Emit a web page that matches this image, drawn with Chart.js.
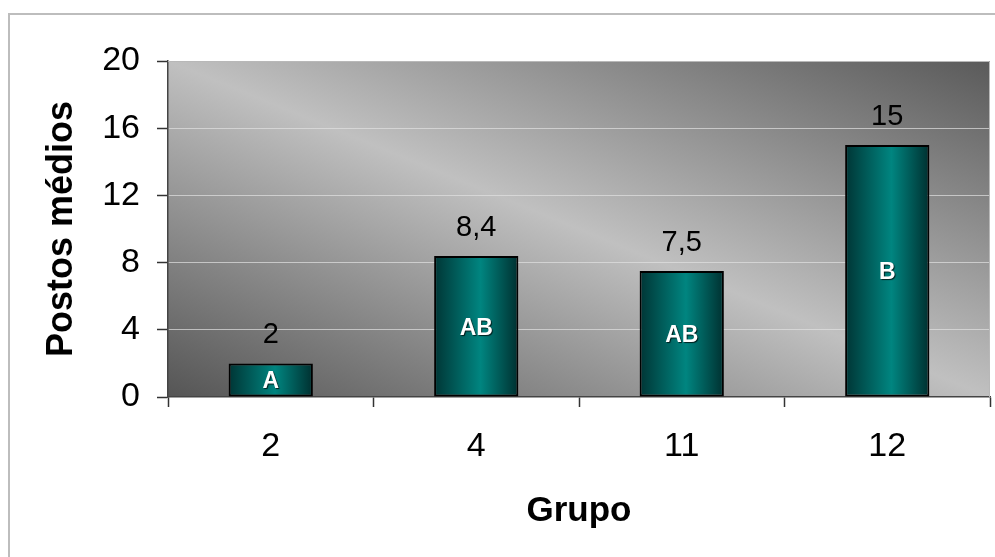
<!DOCTYPE html>
<html>
<head>
<meta charset="utf-8">
<script src="https://cdn.jsdelivr.net/npm/chart.js@4/dist/chart.umd.min.js"></script>
<style>
  html, body { margin: 0; padding: 0; background: #ffffff; }
  #wrap { width: 995px; height: 557px; position: relative; }
</style>
</head>
<body>
<div id="wrap"><canvas id="chart" width="995" height="557"></canvas></div>
<script>
// Mean ranks per group, with the significance letters shown inside each bar
const grupos = ['2', '4', '11', '12'];
const postosMedios = [2, 8.4, 7.5, 15];
const letras = ['A', 'AB', 'AB', 'B'];
const yTicks = [0, 4, 8, 12, 16, 20];

const FONT = '"Liberation Sans", Arial, Helvetica, sans-serif';
const BAR_PCT = 0.41;

// Number format with decimal comma
function fmt(v) {
  return String(v).replace('.', ',');
}

// Horizontal shading for each bar: dark edges, teal centre
function barFill(ctx) {
  const chart = ctx.chart;
  const xs = chart.scales && chart.scales.x;
  if (!chart.chartArea || !xs || ctx.type !== 'data') return '#008080';
  const cx = xs.getPixelForValue(ctx.dataIndex);
  const w = xs.width / grupos.length * BAR_PCT;
  const g = chart.ctx.createLinearGradient(cx - w / 2, 0, cx + w / 2, 0);
  g.addColorStop(0, '#003535');
  g.addColorStop(0.55, '#008580');
  g.addColorStop(1, '#003030');
  return g;
}

// Plot background (diagonal grey shading) and the outer frame
const backdrop = {
  id: 'backdrop',
  beforeDraw(chart) {
    const { ctx, chartArea: a } = chart;
    ctx.save();
    // outer frame
    ctx.strokeStyle = '#bdbdbd';
    ctx.lineWidth = 2;
    ctx.beginPath();
    ctx.moveTo(9, 557);
    ctx.lineTo(9, 14);
    ctx.lineTo(995, 14);
    ctx.stroke();
    // plot area fill: dark toward top-right and bottom-left corners
    const w = a.right - a.left, h = a.bottom - a.top;
    const cx = (a.left + a.right) / 2, cy = (a.top + a.bottom) / 2;
    const len = Math.hypot(w, h);
    const ux = h / len, uy = -w / len;
    const d = ((w / 2) * ux + (-h / 2) * uy);
    const g = ctx.createLinearGradient(cx + d * ux, cy + d * uy, cx - d * ux, cy - d * uy);
    g.addColorStop(0, '#5a5a5a');
    g.addColorStop(0.5, '#c0c0c0');
    g.addColorStop(1, '#555555');
    ctx.fillStyle = g;
    ctx.fillRect(a.left, a.top, w, h);
    ctx.restore();
  },
  afterDraw(chart) {
    const { ctx, chartArea: a } = chart;
    ctx.save();
    ctx.strokeStyle = '#b8b8b8';
    ctx.lineWidth = 1;
    ctx.beginPath();
    ctx.moveTo(a.left, a.top + 0.5);
    ctx.lineTo(a.right - 0.5, a.top + 0.5);
    ctx.lineTo(a.right - 0.5, a.bottom);
    ctx.stroke();
    ctx.restore();
  }
};

// Value above each bar and letter inside it
const barLabels = {
  id: 'barLabels',
  afterDatasetsDraw(chart) {
    const { ctx } = chart;
    const meta = chart.getDatasetMeta(0);
    ctx.save();
    meta.data.forEach((bar, i) => {
      ctx.textAlign = 'center';
      ctx.textBaseline = 'middle';
      ctx.fillStyle = '#000000';
      ctx.font = '29px ' + FONT;
      ctx.fillText(fmt(postosMedios[i]), bar.x, bar.y - 28);

      ctx.save();
      ctx.font = 'bold 23px ' + FONT;
      ctx.fillStyle = '#ffffff';
      ctx.shadowColor = 'rgba(0,0,0,0.75)';
      ctx.shadowOffsetX = 1;
      ctx.shadowOffsetY = 1;
      ctx.shadowBlur = 1;
      ctx.fillText(letras[i], bar.x, (bar.y + bar.base) / 2 + 2);
      ctx.restore();
    });
    ctx.restore();
  }
};

new Chart(document.getElementById('chart'), {
  type: 'bar',
  data: {
    labels: grupos,
    datasets: [{
      data: postosMedios,
      backgroundColor: barFill,
      borderColor: '#000000',
      borderWidth: 2,
      borderSkipped: false,
      categoryPercentage: 1,
      barPercentage: BAR_PCT
    }]
  },
  options: {
    responsive: false,
    animation: false,
    devicePixelRatio: 1,
    layout: { padding: { top: 61, right: 5, left: 0, bottom: 0 } },
    plugins: {
      legend: { display: false },
      tooltip: { enabled: false }
    },
    scales: {
      x: {
        afterFit(s) { s.height = 160; },
        grid: {
          offset: true,
          drawOnChartArea: false,
          drawTicks: true,
          tickLength: 10,
          tickColor: '#333333',
          tickWidth: 1.5
        },
        border: { color: '#444444', width: 1.5 },
        ticks: {
          color: '#000000',
          padding: 19,
          font: { family: FONT, size: 34 }
        },
        title: {
          display: true,
          text: 'Grupo',
          color: '#000000',
          padding: { top: 0, bottom: 25 },
          font: { family: FONT, size: 35, weight: 'bold' }
        }
      },
      y: {
        min: 0,
        max: 20,
        afterFit(s) { s.width = 168; },
        afterBuildTicks(s) { s.ticks = yTicks.map(v => ({ value: v })); },
        grid: {
          color: (c) => (c.tick && c.tick.value > 0 && c.tick.value < 20) ? 'rgba(225,225,225,0.7)' : 'rgba(0,0,0,0)',
          lineWidth: 1,
          drawTicks: true,
          tickLength: 11,
          tickColor: '#333333',
          tickWidth: 1.5
        },
        border: { color: '#444444', width: 1.5 },
        ticks: {
          color: '#000000',
          padding: 17,
          font: { family: FONT, size: 34 }
        },
        title: {
          display: true,
          text: 'Postos médios',
          color: '#000000',
          padding: { top: 40, bottom: 0 },
          font: { family: FONT, size: 36, weight: 'bold' }
        }
      }
    }
  },
  plugins: [backdrop, barLabels]
});
</script>
</body>
</html>
